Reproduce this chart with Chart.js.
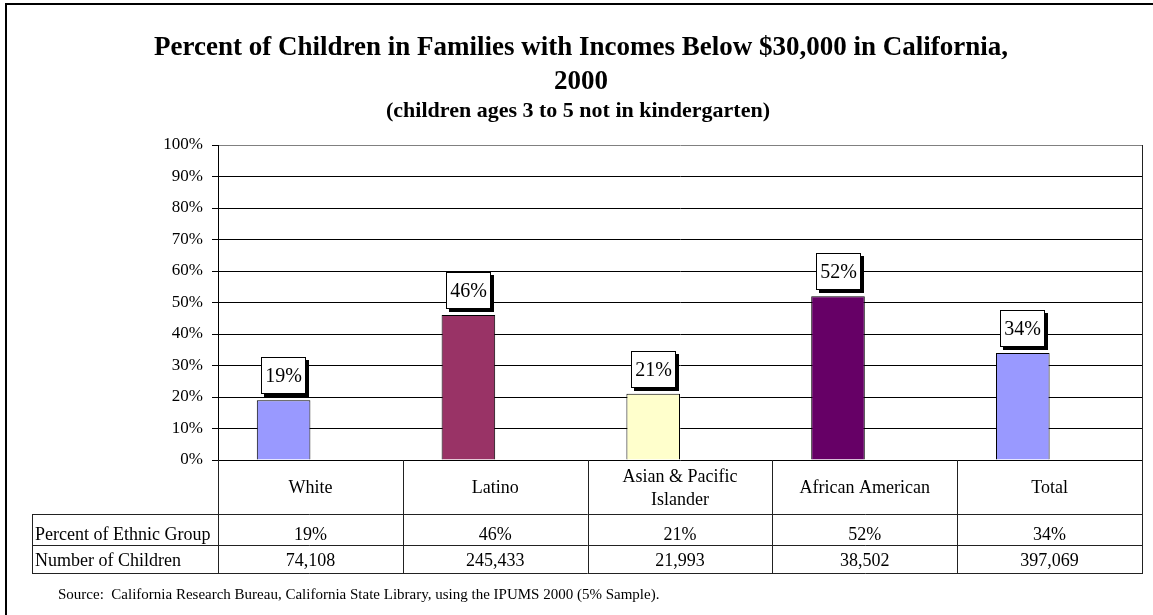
<!DOCTYPE html>
<html>
<head>
<meta charset="utf-8">
<script src="https://cdn.jsdelivr.net/npm/chart.js@4.4.1/dist/chart.umd.min.js"></script>
<style>
  html, body { margin: 0; padding: 0; background: #fff; }
  canvas { display: block; }
</style>
</head>
<body>
<canvas id="povertyChart" width="1153" height="615"></canvas>
<script>
// Chart data
const categories = ['White', 'Latino', ['Asian & Pacific', 'Islander'], 'African American', 'Total'];
const percentOfGroup = [19, 46, 21, 52, 34];
const numberOfChildren = [74108, 245433, 21993, 38502, 397069];
const barColors = ['#9999FF', '#993366', '#FFFFCC', '#660066', '#9999FF'];
const yTicks = [0, 10, 20, 30, 40, 50, 60, 70, 80, 90, 100];
const rowLabels = ['Percent of Ethnic Group', 'Number of Children'];

const titleLines = ['Percent of Children in Families with Incomes Below $30,000 in California,', '2000'];
const subtitleText = '(children ages 3 to 5 not in kindergarten)';
const sourceText = 'Source:  California Research Bureau, California State Library, using the IPUMS 2000 (5% Sample).';

const SERIF = "'Liberation Serif', 'Times New Roman', serif";

// Title, source note, frame
const decorPlugin = {
    id: 'decor',
    beforeDraw(chart) {
        const ctx = chart.ctx;
        ctx.save();
        ctx.fillStyle = '#fff';
        ctx.fillRect(0, 0, chart.width, chart.height);
        ctx.strokeStyle = '#000';
        ctx.lineWidth = 2;
        ctx.strokeRect(6, 4, chart.width + 20, chart.height + 20);
        ctx.restore();
    },
    afterDraw(chart) {
        const ctx = chart.ctx;
        ctx.save();
        ctx.fillStyle = '#000';
        ctx.textAlign = 'center';
        ctx.textBaseline = 'alphabetic';
        ctx.font = 'bold 27px ' + SERIF;
        ctx.fillText(titleLines[0], 581, 55);
        ctx.fillText(titleLines[1], 581, 89);
        ctx.font = 'bold 22px ' + SERIF;
        ctx.fillText(subtitleText, 578, 117);

        ctx.textAlign = 'left';
        ctx.font = '15px ' + SERIF;
        ctx.fillText(sourceText, 58, 599);
        ctx.restore();
    }
};

// Data table under the plot
const dataTablePlugin = {
    id: 'dataTable',
    afterDraw(chart) {
        const ctx = chart.ctx;
        const area = chart.chartArea;
        const x = chart.scales.x;
        const n = categories.length;
        const colW = (area.right - area.left) / n;
        const rows = [area.bottom, 514, 545, 573];
        const labelLeft = 32;

        ctx.save();
        ctx.strokeStyle = '#222';
        ctx.lineWidth = 1;
        ctx.beginPath();
        // right border of plot
        ctx.moveTo(area.right + 0.5, area.top);
        ctx.lineTo(area.right + 0.5, area.bottom);
        // horizontal lines
        for (let r = 1; r < rows.length; r++) {
            ctx.moveTo(labelLeft, rows[r] + 0.5);
            ctx.lineTo(area.right + 1, rows[r] + 0.5);
        }
        // vertical lines
        for (let i = 0; i <= n; i++) {
            const vx = Math.round(area.left + i * colW) + 0.5;
            ctx.moveTo(vx, rows[0]);
            ctx.lineTo(vx, rows[3]);
        }
        ctx.moveTo(labelLeft + 0.5, rows[1]);
        ctx.lineTo(labelLeft + 0.5, rows[3]);
        ctx.stroke();

        ctx.fillStyle = '#000';
        ctx.font = '18px ' + SERIF;
        ctx.textBaseline = 'alphabetic';
        ctx.textAlign = 'center';
        categories.forEach((cat, i) => {
            const cx = x.getPixelForValue(i);
            if (Array.isArray(cat)) {
                ctx.fillText(cat[0], cx, 482);
                ctx.fillText(cat[1], cx, 505);
            } else {
                ctx.fillText(cat, cx, 493);
            }
            ctx.fillText(percentOfGroup[i] + '%', cx, 540);
            ctx.fillText(numberOfChildren[i].toLocaleString('en-US'), cx, 566);
        });
        ctx.textAlign = 'left';
        ctx.fillText(rowLabels[0], labelLeft + 3, 540);
        ctx.fillText(rowLabels[1], labelLeft + 3, 566);
        ctx.restore();
    }
};

// Boxed value labels with drop shadow
const boxLabelPlugin = {
    id: 'boxLabels',
    afterDatasetsDraw(chart) {
        const ctx = chart.ctx;
        const meta = chart.getDatasetMeta(0);
        const w = 45, h = 37, gap = 6, shadow = 3;
        ctx.save();
        meta.data.forEach((bar, i) => {
            const left = Math.round(bar.x - w / 2);
            const top = Math.round(bar.y - gap - h);
            ctx.fillStyle = '#000';
            ctx.fillRect(left + shadow, top + shadow, w, h);
            ctx.fillStyle = '#fff';
            ctx.fillRect(left, top, w, h);
            ctx.strokeStyle = '#000';
            ctx.lineWidth = 1;
            ctx.strokeRect(left + 0.5, top + 0.5, w - 1, h - 1);
            ctx.fillStyle = '#000';
            ctx.font = '20px ' + SERIF;
            ctx.textAlign = 'center';
            ctx.textBaseline = 'middle';
            ctx.fillText(percentOfGroup[i] + '%', left + w / 2, top + h / 2 + 1);
        });
        ctx.restore();
    }
};

new Chart(document.getElementById('povertyChart'), {
    type: 'bar',
    data: {
        labels: categories,
        datasets: [
            {
                label: rowLabels[0],
                data: percentOfGroup,
                backgroundColor: barColors,
                borderColor: '#000',
                borderWidth: 1,
                categoryPercentage: 0.58,
                barPercentage: 1.0,
                yAxisID: 'y'
            },
            {
                label: rowLabels[1],
                data: numberOfChildren,
                backgroundColor: 'rgba(0,0,0,0)',
                borderWidth: 0,
                categoryPercentage: 0.58,
                barPercentage: 1.0,
                yAxisID: 'y2'
            }
        ]
    },
    options: {
        responsive: false,
        animation: false,
        layout: {
            padding: { left: 0, right: 11, top: 145, bottom: 155 }
        },
        scales: {
            x: {
                display: false
            },
            y: {
                min: 0,
                max: 100,
                afterFit(scale) { scale.width = 218; },
                afterBuildTicks(scale) { scale.ticks = yTicks.map(v => ({ value: v })); },
                border: { color: '#000', width: 1 },
                grid: {
                    color: ctx => (ctx.tick && ctx.tick.value === 100) ? '#808080' : '#000',
                    lineWidth: 1,
                    tickLength: 6,
                    tickColor: '#000'
                },
                ticks: {
                    padding: 9,
                    color: '#000',
                    font: { family: SERIF, size: 17 },
                    callback: v => v + '%'
                }
            },
            y2: {
                display: false,
                min: 0,
                max: 400000
            }
        },
        plugins: {
            legend: { display: false },
            tooltip: { enabled: false }
        }
    },
    plugins: [decorPlugin, dataTablePlugin, boxLabelPlugin]
});
</script>
</body>
</html>
